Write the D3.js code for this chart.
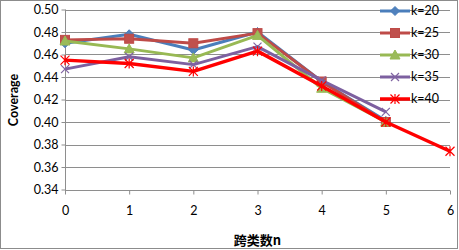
<!DOCTYPE html>
<html><head><meta charset="utf-8">
<script src="https://cdn.jsdelivr.net/npm/d3@7"></script>
<style>body{margin:0;background:#fff}svg{display:block}</style>
</head><body>
<script>
const xValues = [0,1,2,3,4,5,6];
const yTicks = [0.34,0.36,0.38,0.40,0.42,0.44,0.46,0.48,0.50];
const seriesNames = ["k=20","k=25","k=30","k=35","k=40"];
const k20 = [0.470,0.478,0.464,0.480,0.436,0.401];
const k25 = [0.473,0.474,0.470,0.479,0.436,0.400];
const k30 = [0.472,0.465,0.457,0.477,0.430,0.400];
const k35 = [0.447,0.458,0.451,0.467,0.437,0.409];
const k40 = [0.455,0.452,0.445,0.463,0.432,0.400,0.374];
const colors = ["#4A7EBB","#BE4B48","#98B954","#7D60A0","#FF0000"];
const markerFill = ["#4F81BD","#C0504D","#9BBB59","#8064A2","#FF0000"];
const markers = ["diamond","square","triangle","x","star"];
const allSeries = [k20,k25,k30,k35,k40];

const W=459,H=250;
const svg=d3.select("body").append("svg").attr("width",W).attr("height",H);
svg.append("rect").attr("x",0.5).attr("y",0.5).attr("width",457).attr("height",248)
  .attr("fill","#fff").attr("stroke","#8c8c8c");

const x=d3.scaleLinear().domain([0,6]).range([65,450]);
const y=d3.scaleLinear().domain([0.34,0.50]).range([189.5,9.5]);

// gridlines
svg.append("g").selectAll("line").data(yTicks.slice(1)).join("line")
  .attr("x1",65).attr("x2",450).attr("y1",d=>Math.round(y(d))+0.5).attr("y2",d=>Math.round(y(d))+0.5)
  .attr("stroke","#8e8e8e").attr("stroke-width",1);

const fontTick="Lato, 'Open Sans', sans-serif";
// y axis
const yAxis=svg.append("g").attr("transform","translate(65.5,0)")
  .call(d3.axisLeft(y).tickValues(yTicks).tickFormat(d3.format(".2f")).tickSize(4).tickPadding(3));
yAxis.selectAll("text").attr("font-family",fontTick).attr("font-size","12.5px").attr("fill","#000")
  .attr("dy","0.35em");
yAxis.selectAll("line,path").attr("stroke","#8e8e8e");
yAxis.select("path").attr("d","M0,"+y(0.50)+"V"+(Math.round(y(0.34))+0.5));
// x axis
const xAxis=svg.append("g").attr("transform","translate(0,"+(Math.round(y(0.34))+0.5)+")")
  .call(d3.axisBottom(x).tickValues(xValues).tickFormat(d3.format("d")).tickSize(4).tickPadding(12));
xAxis.selectAll("text").attr("font-family",fontTick).attr("font-size","12.5px").attr("fill","#000");
xAxis.selectAll("line,path").attr("stroke","#8e8e8e");
xAxis.select("path").attr("d","M65,0H450");

// titles
svg.append("text").attr("transform","translate(18,100) rotate(-90)").attr("text-anchor","middle")
  .attr("font-family",fontTick).attr("font-weight","bold").attr("font-size","12.5px").text("Coverage");
svg.append("text").attr("x",257.5).attr("y",245).attr("text-anchor","middle")
  .attr("font-family","'Noto Sans CJK SC', sans-serif").attr("font-weight","bold").attr("font-size","13px").text("跨类数n");

function drawMarker(g,type,cx,cy,i){
  const c=markerFill[i];
  if(type==="diamond"){
    g.append("path").attr("d",`M${cx},${cy-4.5}L${cx+4.5},${cy}L${cx},${cy+4.5}L${cx-4.5},${cy}Z`).attr("fill",c).attr("stroke",colors[i]);
  }else if(type==="square"){
    g.append("rect").attr("x",cx-4.5).attr("y",cy-4.5).attr("width",9).attr("height",9).attr("fill",c).attr("stroke",colors[i]);
  }else if(type==="triangle"){
    g.append("path").attr("d",`M${cx},${cy-5}L${cx+5},${cy+4}L${cx-5},${cy+4}Z`).attr("fill",c).attr("stroke",colors[i]);
  }else if(type==="x"){
    g.append("path").attr("d",`M${cx-4},${cy-4}L${cx+4},${cy+4}M${cx-4},${cy+4}L${cx+4},${cy-4}`).attr("stroke",c).attr("stroke-width",1.2).attr("fill","none");
  }else{
    g.append("path").attr("d",`M${cx-4.5},${cy-4.5}L${cx+4.5},${cy+4.5}M${cx-4.5},${cy+4.5}L${cx+4.5},${cy-4.5}M${cx},${cy-5}V${cy+5}`).attr("stroke",c).attr("stroke-width",1.2).attr("fill","none");
  }
}

const line=d3.line().x((d,i)=>x(xValues[i])).y(d=>y(d));
allSeries.forEach((s,i)=>{
  const g=svg.append("g");
  g.append("path").attr("d",line(s)).attr("fill","none").attr("stroke",colors[i])
    .attr("stroke-width",i===4?3.5:3).attr("stroke-linejoin","round");
  s.forEach((v,j)=>drawMarker(g,markers[i],x(xValues[j]),y(v),i));
});

// legend
const legY=[11,33,55,77,99];
seriesNames.forEach((n,i)=>{
  const g=svg.append("g");
  g.append("line").attr("x1",380).attr("x2",410).attr("y1",legY[i]).attr("y2",legY[i])
    .attr("stroke",colors[i]).attr("stroke-width",i===4?3.5:3);
  drawMarker(g,markers[i],395,legY[i],i);
  g.append("text").attr("x",411).attr("y",legY[i]).attr("dy","0.35em").attr("font-family",fontTick)
    .attr("font-size","12.5px").text(n);
});
</script>
</body></html>
